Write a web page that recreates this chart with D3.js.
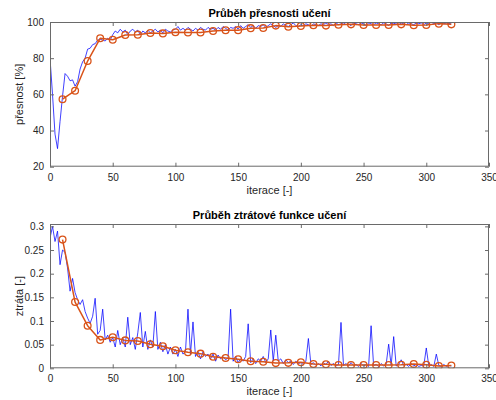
<!DOCTYPE html>
<html><head><meta charset="utf-8">
<script src="https://cdn.jsdelivr.net/npm/d3@7/dist/d3.min.js"></script>
<style>
body{margin:0;background:#fff;}
svg{display:block;font-family:"Liberation Sans",Arial,sans-serif;}
</style></head>
<body>
<svg id="chart" width="496" height="400"></svg>
<script>
// ---------- data ----------
const trainIter = d3.range(0, 321, 2);
const trainAcc = [80,60,38,30,45,59,71.5,70,67.5,68,64.5,67,74,78,80,85,85.5,87.5,88,90,
90.5,90,89.5,91,90,93,95,94,96,94.5,95.5,93,95,96,94.5,95.5,93,95,94,95.5,
94,95,96,94.5,95.5,94,96,95,94.5,95.5,96,97.5,95.5,96.5,95.5,97,96,95,96.5,95.5,
97,96,95.5,97,96,96.5,95.5,97,96,97.5,96.5,95.5,97,96.5,97.5,96,98,96.5,97.5,98.5,
97,98,96.5,98,97.5,98.5,97,98,99,98,97,98,97.5,99,98,97.5,98.5,99.5,98,97.5,
98.5,98,99,98.5,97.5,99,98.5,98,99,98.5,99.5,98.5,99,98,99.5,98.5,99,99.5,98.5,99,
98,99.5,99,98.5,99.5,99,98,99.5,99,98.5,99.5,99,98.5,99.5,99,98,99.5,99,99.5,98.5,
99.5,99,98.5,99.5,99,98.5,99.5,99,99.5,98.5,99.5,99,100,99,99.5,98.5,99.5,99,99.5,99,99.5];
const trainLoss = [0.275,0.30,0.268,0.29,0.219,0.25,0.245,0.212,0.163,0.19,0.16,0.145,0.135,0.145,0.12,0.106,0.095,0.11,0.148,0.072,
0.08,0.125,0.06,0.07,0.055,0.065,0.045,0.08,0.05,0.065,0.045,0.108,0.05,0.065,0.04,0.075,0.118,0.045,0.078,0.04,
0.06,0.045,0.12,0.04,0.055,0.035,0.05,0.03,0.045,0.03,0.04,0.025,0.045,0.03,0.035,0.125,0.03,0.098,0.025,0.035,
0.02,0.035,0.025,0.03,0.02,0.03,0.015,0.028,0.02,0.025,0.018,0.022,0.125,0.015,0.025,0.012,0.02,0.015,0.025,0.094,
0.012,0.02,0.01,0.02,0.015,0.025,0.012,0.02,0.081,0.015,0.07,0.015,0.02,0.01,0.018,0.012,0.015,0.008,0.015,0.01,
0.012,0.008,0.015,0.063,0.008,0.012,0.006,0.01,0.005,0.012,0.008,0.015,0.006,0.01,0.005,0.008,0.097,0.006,0.01,0.005,
0.012,0.006,0.008,0.004,0.01,0.005,0.008,0.004,0.09,0.006,0.008,0.004,0.01,0.005,0.008,0.051,0.006,0.067,0.005,0.008,
0.018,0.006,0.008,0.004,0.01,0.005,0.008,0.004,0.006,0.005,0.043,0.005,0.008,0.004,0.03,0.006,0.004,0.008,0.004,0.006,0.005];
const valIter = d3.range(10, 321, 10);
const valAcc = [57.3,62,78.4,91,90.2,92.8,93,93.9,93.7,94.3,94.2,94.2,95,95.4,95.5,96.6,96.7,98,97.4,97.8,
98.2,98,98.5,98.7,98.3,98.3,98.3,98.7,98.2,98.3,99.1,98.7];
const valLoss = [0.272,0.14,0.09,0.06,0.0655,0.059,0.0577,0.0507,0.0465,0.038,0.0338,0.031,0.0245,0.0218,0.019,0.0148,
0.014,0.011,0.0115,0.0128,0.009,0.0085,0.007,0.007,0.007,0.007,0.007,0.0075,0.009,0.0075,0.005,0.006];
const xTicks = [0,50,100,150,200,250,300,350];
const accTicks = [20,40,60,80,100];
const lossTicks = [0,0.05,0.1,0.15,0.2,0.25,0.3];
const lossTickLabels = ["0","0.05","0.1","0.15","0.2","0.25","0.3"];
const titles = ["Průběh přesnosti učení","Průběh ztrátové funkce učení"];
const xLabel = "iterace [-]";
const yLabels = ["přesnost [%]","ztráta [-]"];

// ---------- drawing ----------
const svg = d3.select("#chart");
const textColor = "#262626";
const axisColor = "#6a6a6a";
const left = 50, right = 489;

function panel(top, bottom, yDomain, yTicks, yTickLabels, trainY, valY, title, yLabel){
  const x = d3.scaleLinear().domain([0,350]).range([left,right]);
  const y = d3.scaleLinear().domain(yDomain).range([bottom,top]);
  const g = svg.append("g");
  const clipId = "clip" + Math.round(top);
  svg.append("clipPath").attr("id",clipId).append("rect")
    .attr("x",left).attr("y",top).attr("width",right-left).attr("height",bottom-top);
  const dg = g.append("g").attr("clip-path","url(#"+clipId+")");
  const line = d3.line().x(d=>x(d[0])).y(d=>y(d[1]));
  dg.append("path").datum(trainIter.map((t,i)=>[t,trainY[i]]))
    .attr("d",line).attr("fill","none").attr("stroke","#0000ff").attr("stroke-width",0.75)
    .attr("stroke-linejoin","round");
  const vd = valIter.map((t,i)=>[t,valY[i]]);
  dg.append("path").datum(vd).attr("d",line).attr("fill","none")
    .attr("stroke","#D95319").attr("stroke-width",1.5).attr("stroke-linejoin","round");
  dg.selectAll("circle").data(vd).join("circle")
    .attr("cx",d=>x(d[0])).attr("cy",d=>y(d[1])).attr("r",3.4)
    .attr("fill","none").attr("stroke","#D95319").attr("stroke-width",1.3);
  const styleAxis = sel => {
    sel.select(".domain").remove();
    sel.selectAll(".tick line").attr("stroke",axisColor);
    sel.selectAll(".tick text").attr("fill",textColor).attr("font-size","10px")
      .attr("font-family","'Liberation Sans',Arial,sans-serif");
  };
  g.append("g").attr("transform",`translate(0,${bottom})`)
    .call(d3.axisBottom(x).tickValues(xTicks).tickSize(-4).tickPadding(7).tickFormat(d3.format("d")))
    .call(styleAxis);
  g.append("g").attr("transform",`translate(0,${top})`)
    .call(d3.axisTop(x).tickValues(xTicks).tickSize(-4).tickFormat(""))
    .call(styleAxis);
  g.append("g").attr("transform",`translate(${left},0)`)
    .call(d3.axisLeft(y).tickValues(yTicks).tickSize(-4).tickPadding(6).tickFormat((d,i)=>yTickLabels[i]))
    .call(styleAxis);
  g.append("g").attr("transform",`translate(${right},0)`)
    .call(d3.axisRight(y).tickValues(yTicks).tickSize(-4).tickFormat(""))
    .call(styleAxis);
  g.append("rect").attr("x",left+0.5).attr("y",top+0.5).attr("width",right-left-1).attr("height",bottom-top-1)
    .attr("fill","none").attr("stroke",axisColor).attr("stroke-width",1);
  g.append("text").attr("x",(left+right)/2).attr("y",top-5).attr("text-anchor","middle")
    .attr("font-size","11px").attr("font-weight","bold").attr("fill","#000").text(title);
  g.append("text").attr("x",(left+right)/2).attr("y",bottom+27).attr("text-anchor","middle")
    .attr("font-size","11px").attr("fill",textColor).text(xLabel);
  g.append("text").attr("transform",`translate(${20},${(top+bottom)/2}) rotate(-90)`)
    .attr("text-anchor","middle").attr("dominant-baseline","middle")
    .attr("font-size","11px").attr("fill",textColor).text(yLabel);
}
panel(22, 166.7, [20,100], accTicks, accTicks.map(String), trainAcc, valAcc, titles[0], yLabels[0]);
panel(224, 368.3, [0,0.305], lossTicks, lossTickLabels, trainLoss, valLoss, titles[1], yLabels[1]);
</script>
</body></html>
